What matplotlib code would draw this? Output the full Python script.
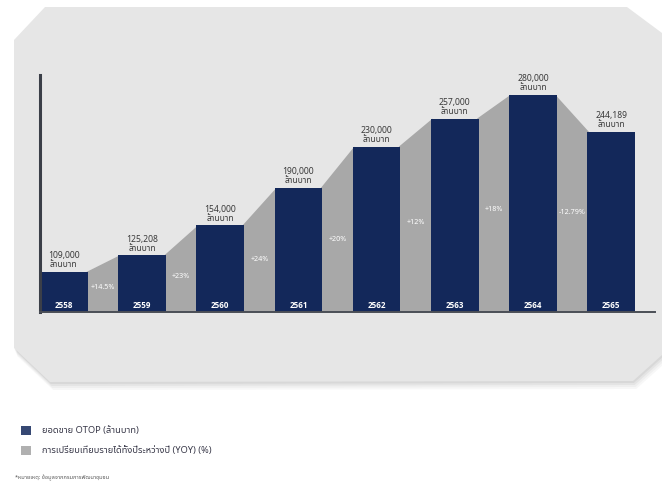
import matplotlib
matplotlib.use("Agg")
import matplotlib.pyplot as plt
from matplotlib.patches import Polygon, Rectangle

plt.rcParams['font.family'] = ['Noto Sans', 'Noto Sans Thai', 'DejaVu Sans']

# ---- data ----
years = ["2558", "2559", "2560", "2561", "2562", "2563", "2564", "2565"]
sales = [109000, 125208, 154000, 190000, 230000, 257000, 280000, 244189]
sales_labels = ["109,000", "125,208", "154,000", "190,000", "230,000", "257,000", "280,000", "244,189"]
yoy_labels = ["+14.5%", "+23%", "+24%", "+20%", "+12%", "+18%", "-12.79%"]
unit = "ล้านบาท"
legend_labels = ["ยอดขาย OTOP (ล้านบาท)", "การเปรียบเทียบรายได้ทั้งปีระหว่างปี (YOY) (%)"]
footnote = "*หมายเหตุ: ข้อมูลจากกรมการพัฒนาชุมชน"

NAVY = "#13285a"
GRAY = "#a8a8a8"
CARD = "#e6e6e6"
W, H = 662, 491

fig = plt.figure(figsize=(W / 100, H / 100), dpi=100)
fig.patch.set_facecolor("white")

def fpt(x, y):
    return (x / W, 1 - y / H)

card_px = [(14, 40), (45, 7), (627, 7), (662, 33), (662, 355), (633, 381), (50, 382), (14, 348)]
# soft shadow
for k, a in [(8, 0.05), (6, 0.06), (4, 0.08), (2, 0.10)]:
    sh = [fpt(x + k * 0.4, y + k) for x, y in card_px]
    fig.patches.append(Polygon(sh, closed=True, transform=fig.transFigure,
                               facecolor="#6f6f6f", edgecolor="none", alpha=a, zorder=0))
fig.patches.append(Polygon([fpt(x, y) for x, y in card_px], closed=True,
                           transform=fig.transFigure, facecolor=CARD,
                           edgecolor="none", zorder=1))

ax_left, ax_right, ax_top, ax_bot = 40, 655, 75, 312
ax = fig.add_axes([ax_left / W, 1 - ax_bot / H, (ax_right - ax_left) / W, (ax_bot - ax_top) / H])
ax.set_facecolor("none")
ax.set_zorder(2)

n = len(years)
x = list(range(n))
bw = 0.61
ymin, ymax = 70600, 299000
ax.set_xlim(-bw / 2, 7.56)
ax.set_ylim(ymin, ymax)

# gray connecting areas
for i in range(n - 1):
    xl = x[i] + bw / 2
    xr = x[i + 1] - bw / 2
    poly = Polygon([(xl - 0.02, ymin), (xl - 0.02, sales[i]), (xr + 0.02, sales[i + 1]), (xr + 0.02, ymin)],
                   closed=True, facecolor=GRAY, edgecolor="none", zorder=1)
    ax.add_patch(poly)
    ymid = (ymin + (sales[i] + sales[i + 1]) / 2) / 2
    ax.text((x[i] + x[i + 1]) / 2, ymid, yoy_labels[i], ha="center", va="center",
            color="white", fontsize=5.2, zorder=3)

ax.bar(x, [s - ymin for s in sales], bottom=ymin, width=bw, color=NAVY, zorder=2)

for i in range(n):
    ax.annotate(years[i], (x[i], ymin), xytext=(0, 4.8), textcoords="offset points",
                ha="center", va="center", color="white", fontsize=5.8,
                family=["Open Sans", "DejaVu Sans"], fontweight="bold", zorder=4)
    ax.annotate(sales_labels[i] + "\n" + unit, (x[i], sales[i]), xytext=(0, 2),
                textcoords="offset points", ha="center", va="bottom", color="#3a3a3a",
                fontsize=6.2, linespacing=1.0, zorder=4)

for s in ["top", "right"]:
    ax.spines[s].set_visible(False)
ax.spines["left"].set_color("#3b3f48")
ax.spines["left"].set_linewidth(2.2)
ax.spines["bottom"].set_color("#4a4e56")
ax.spines["bottom"].set_linewidth(1.4)
ax.set_xticks([])
ax.set_yticks([])

# legend
for (yc, col), lab in zip([(430.5, NAVY), (450.5, GRAY)], legend_labels):
    fig.patches.append(Rectangle(fpt(21, yc + 4.5), 9.5 / W, 9 / H, transform=fig.transFigure,
                                 facecolor=col, edgecolor="none", alpha=0.85 if col == NAVY else 0.9))
    fig.text(42 / W, 1 - yc / H, lab, ha="left", va="center", fontsize=6.7, color="#3a3a4a")

fig.text(15 / W, 1 - 478 / H, footnote, ha="left", va="center", fontsize=4.0, color="#555555")

fig.savefig("out.png", dpi=100, facecolor="white")
